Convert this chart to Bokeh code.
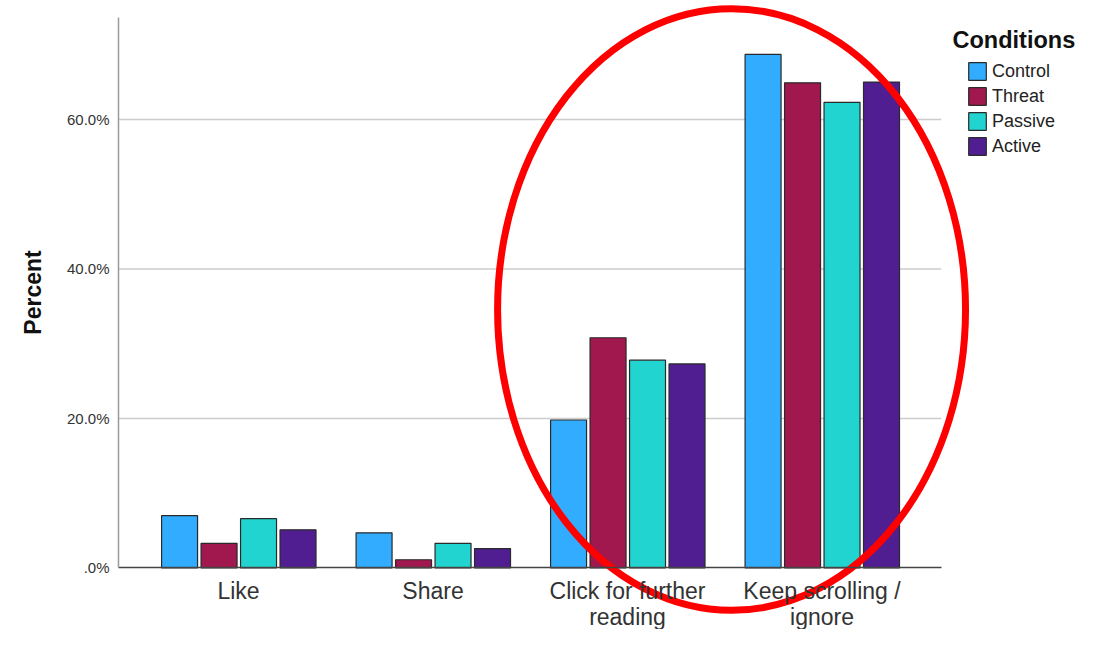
import numpy as np
from bokeh.plotting import figure
from bokeh.models import (Range1d, FixedTicker, Legend, LegendItem, Label,
                          ColumnDataSource, LinearAxis)
from bokeh.embed import file_html
from bokeh.resources import INLINE

# ---- data ----
categories = ["Like", "Share", "Click for further\nreading", "Keep scrolling /\nignore"]
conditions = ["Control", "Threat", "Passive", "Active"]
control = [7.0, 4.7, 19.8, 68.7]
threat = [3.3, 1.1, 30.8, 64.9]
passive = [6.6, 3.3, 27.8, 62.3]
active = [5.1, 2.6, 27.3, 65.0]
series = [control, threat, passive, active]
colors = ["#31acff", "#a0184e", "#21d4d0", "#511e92"]
y_ticks = [0, 20, 40, 60]
y_tick_labels = [".0%", "20.0%", "40.0%", "60.0%"]

FONT = "Liberation Sans"

# plotting window (data coords) and the axis extents
X_LO, X_HI = -0.617, 3.613
Y_TOP = 73.6

p = figure(width=1078, height=629, min_border=0,
           min_border_left=0, min_border_right=0, min_border_top=0, min_border_bottom=0,
           output_backend="svg", toolbar_location=None,
           x_axis_type=None, y_axis_type=None,
           x_range=Range1d(-1.2237, 4.3188), y_range=Range1d(-8.23, 75.92))
p.outline_line_color = None
p.background_fill_color = "white"
p.xgrid.visible = False
p.ygrid.visible = False

# grid lines across the plotting window only
p.segment(x0=X_LO, x1=X_HI, y0=y_ticks[1:], y1=y_ticks[1:],
          line_color="#cccccc", line_width=1.5)

x_base = np.arange(len(categories))
offsets = [-0.303, -0.1, 0.103, 0.306]
items = []
for name, vals, col, off in zip(conditions, series, colors, offsets):
    src = ColumnDataSource(dict(x=x_base + off, top=vals))
    r = p.vbar(x="x", top="top", width=0.185, bottom=0, source=src,
               fill_color=col, line_color="#2a2a2a", line_width=1.2)
    items.append(LegendItem(label=name, renderers=[r]))

# axes fixed inside the canvas-wide frame
xaxis = LinearAxis(fixed_location=0, bounds=(X_LO, X_HI))
xaxis.ticker = FixedTicker(ticks=list(x_base))
xaxis.major_label_overrides = {int(i): c for i, c in zip(x_base, categories)}
xaxis.major_tick_line_color = None
xaxis.major_tick_out = 0
xaxis.major_tick_in = 0
xaxis.minor_tick_line_color = None
xaxis.axis_line_color = "#444444"
xaxis.axis_line_width = 1.3
xaxis.major_label_text_font = FONT
xaxis.major_label_text_font_size = "23px"
xaxis.major_label_text_color = "#333333"
xaxis.major_label_text_line_height = 1.0
xaxis.major_label_standoff = 10
p.add_layout(xaxis, "below")

yaxis = LinearAxis(fixed_location=X_LO, bounds=(0, Y_TOP))
yaxis.ticker = FixedTicker(ticks=y_ticks)
yaxis.major_label_overrides = {t: l for t, l in zip(y_ticks, y_tick_labels)}
yaxis.major_tick_line_color = None
yaxis.major_tick_out = 0
yaxis.major_tick_in = 0
yaxis.minor_tick_line_color = None
yaxis.axis_line_color = "#9a9a9a"
yaxis.axis_line_width = 1.5
yaxis.major_label_text_font = FONT
yaxis.major_label_text_font_size = "15px"
yaxis.major_label_text_color = "#333333"
yaxis.major_label_standoff = 9
yaxis.axis_label = "Percent"
yaxis.axis_label_text_font = FONT
yaxis.axis_label_text_font_size = "23px"
yaxis.axis_label_text_font_style = "bold"
yaxis.axis_label_text_color = "#111111"
yaxis.axis_label_standoff = 18
p.add_layout(yaxis, "left")

# legend
legend = Legend(items=items, location=(966, 472), padding=0, margin=0,
                glyph_width=22, glyph_height=22, label_height=22, spacing=3,
                label_standoff=4, label_text_font=FONT,
                label_text_font_size="18px", label_text_color="#222222",
                border_line_color=None, background_fill_alpha=0)
p.add_layout(legend, "center")

p.add_layout(Label(x=952, y=590, x_units="screen", y_units="screen",
                   text="Conditions", text_font=FONT, text_font_size="23.5px",
                   text_font_style="bold", text_color="#111111",
                   text_baseline="alphabetic"))

# red ellipse highlight
p.ellipse(x=2.535, y=34.58, width=2.406, height=80.5,
          fill_alpha=0, line_color="#ff0000", line_width=7)

open("out.html", "w").write(file_html(p, INLINE))
